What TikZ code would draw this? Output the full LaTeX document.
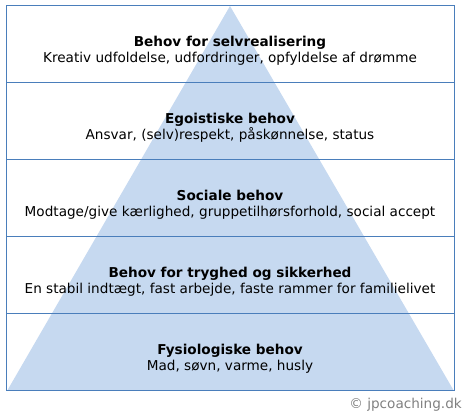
\documentclass[tikz,border=0pt]{standalone}
\usepackage{fontspec}
\setmainfont{DejaVu Sans}
\definecolor{boxline}{HTML}{4A7EBB}
\definecolor{trifill}{HTML}{C6D9F0}
\definecolor{copygray}{HTML}{808080}
\begin{document}
\begin{tikzpicture}[x=1pt,y=1pt,
  level/.style={align=center,font=\fontsize{13.6}{16}\selectfont,text=black,inner sep=0pt},
  hline/.style={draw=boxline,line width=1pt}]
\useasboundingbox (0,0) rectangle (469,419);
\fill[trifill] (230,413) coordinate (apex) -- (454,28) coordinate (br) -- (7,28) coordinate (bl) -- cycle;
\coordinate (tl) at (6.5,413);
\coordinate (lr) at (454.5,28);
\draw[hline] (tl) rectangle (lr);
\foreach \yy in {336,259,182,105} \draw[hline] (6.5,\yy) -- (454.5,\yy);
\node[level] (l1) at (230,368) {\textbf{Behov for selvrealisering}\\Kreativ udfoldelse, udfordringer, opfyldelse af drømme};
\node[level] (l2) at (230,291) {\textbf{Egoistiske behov}\\Ansvar, (selv)respekt, påskønnelse, status};
\node[level] (l3) at (230,214) {\textbf{Sociale behov}\\Modtage/give kærlighed, gruppetilhørsforhold, social accept};
\node[level] (l4) at (230,137) {\textbf{Behov for tryghed og sikkerhed}\\En stabil indtægt, fast arbejde, faste rammer for familielivet};
\node[level] (l5) at (230,60) {\textbf{Fysiologiske behov}\\Mad, søvn, varme, husly};
\node[anchor=east,text=copygray,font=\fontsize{13.6}{15}\selectfont,inner sep=0pt] (copy) at (462,14) {© jpcoaching.dk};
\end{tikzpicture}
\end{document}
